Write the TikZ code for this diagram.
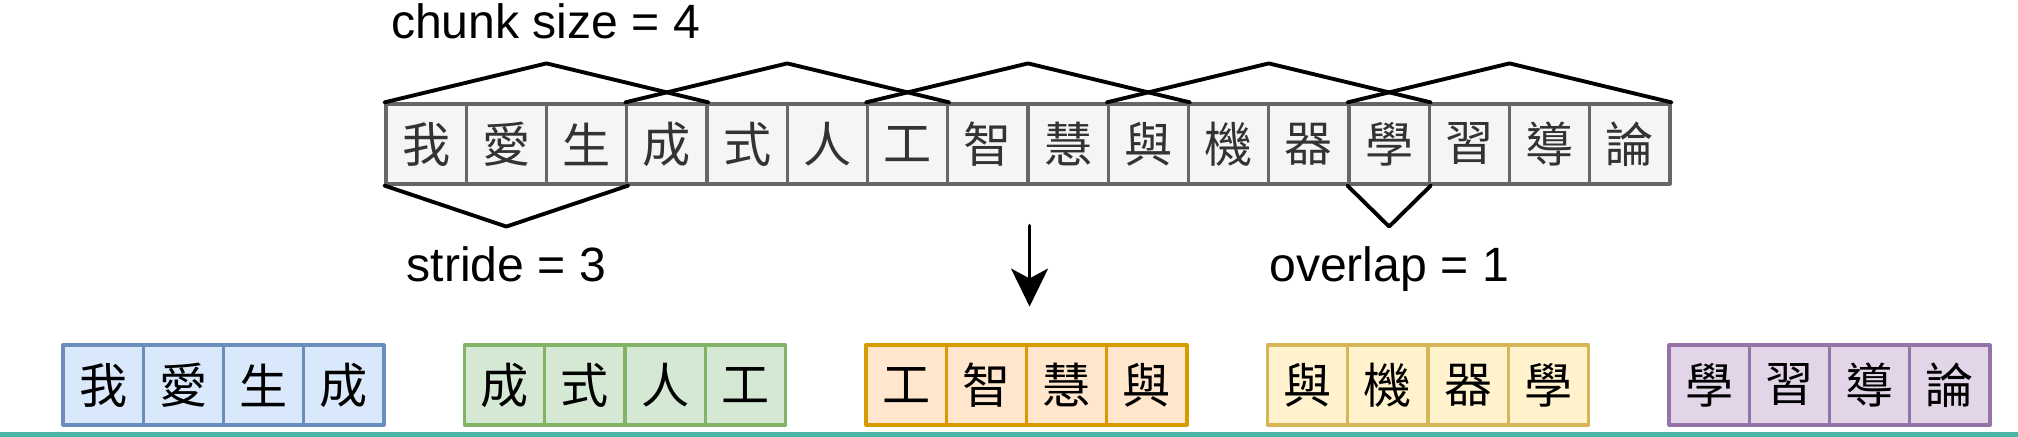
\documentclass[tikz,border=0pt]{standalone}
\usepackage{fontspec}
\setmainfont{Liberation Sans}
\newfontfamily\cjk{Noto Sans CJK TC}
\usepackage{tikz}
\usetikzlibrary{arrows.meta,calc}

\definecolor{cellfill}{HTML}{F5F5F5}
\definecolor{celldraw}{HTML}{666666}
\definecolor{celltext}{HTML}{333333}
\definecolor{bluefill}{HTML}{DAE8FC}
\definecolor{bluedraw}{HTML}{6C8EBF}
\definecolor{greenfill}{HTML}{D5E8D4}
\definecolor{greendraw}{HTML}{82B366}
\definecolor{orangefill}{HTML}{FFE6CC}
\definecolor{orangedraw}{HTML}{D79B00}
\definecolor{yellowfill}{HTML}{FFF2CC}
\definecolor{yellowdraw}{HTML}{D6B656}
\definecolor{purplefill}{HTML}{E1D5E7}
\definecolor{purpledraw}{HTML}{9673A6}
\definecolor{tealline}{HTML}{4BB5A5}

\begin{document}
\begin{tikzpicture}[>=Stealth, line cap=round, line join=round,
    cell/.style={draw=celldraw, fill=cellfill, text=celltext, line width=0.9pt,
        minimum width=0.8025cm, minimum height=0.8cm, inner sep=0pt,
        font=\cjk\fontsize{13.7}{16}\selectfont},
    chunkcell/.style={cell, text=black, fill=#1fill, draw=#1draw},
    brace/.style={line width=1.1pt},
    lbl/.style={font=\fontsize{13.7}{16}\selectfont, inner sep=0pt}]

\useasboundingbox (0,0) rectangle (20.18,4.37);

% Testo intero
\foreach \c [count=\i from 0] in {我,愛,生,成,式,人,工,智,慧,與,機,器,學,習,導,論}
    \node[cell] (t\i) at (4.261+0.8025*\i, 2.93) {\c};

% Chunk (sopra)
\foreach \a/\b in {0/3, 3/6, 6/9, 9/12, 12/15}
    \draw[brace] (t\a.north west)
        -- ($(t\a.north west)!0.5!(t\b.north east)+(0,0.39)$)
        -- (t\b.north east);

% Stride e overlap (sotto)
\draw[brace] (t0.south west)
    -- ($(t0.south west)!0.5!(t2.south east)+(0,-0.41)$) coordinate (vs)
    -- (t2.south east);
\draw[brace] (t12.south west)
    -- ($(t12.south west)!0.5!(t12.south east)+(0,-0.41)$) coordinate (vo)
    -- (t12.south east);

% Etichette
\node[lbl, anchor=base west] (chunk) at ($(t0.north west)+(0.06,0.64)$) {chunk size = 4};
\node[lbl, anchor=base] (stride) at ($(vs)+(0,-0.55)$) {stride = 3};
\node[lbl, anchor=base] (overlap) at ($(vo)+(0,-0.55)$) {overlap = 1};

% Freccia
\coordinate (a1) at ($(t7.south east)+(0,-0.40)$);
\coordinate (a2) at ($(t7.south east)+(0,-1.21)$);
\draw[line width=0.95pt, -{Stealth[length=10.8pt, width=10.5pt, inset=2.8pt]}] (a1) -- (a2);

% Chunk risultanti
\foreach \col/\chars [count=\g from 0] in {blue/{我,愛,生,成}, green/{成,式,人,工},
        orange/{工,智,慧,與}, yellow/{與,機,器,學}, purple/{學,習,導,論}}
    \foreach \c [count=\j from 0] in \chars
        \node[chunkcell=\col] (b\g-\j) at (1.031+4.015*\g+0.8025*\j, 0.52) {\c};

% Linea in fondo
\draw[tealline, line width=1.5pt, line cap=butt] (0,0.027) -- (20.18,0.027);

\end{tikzpicture}
\end{document}
